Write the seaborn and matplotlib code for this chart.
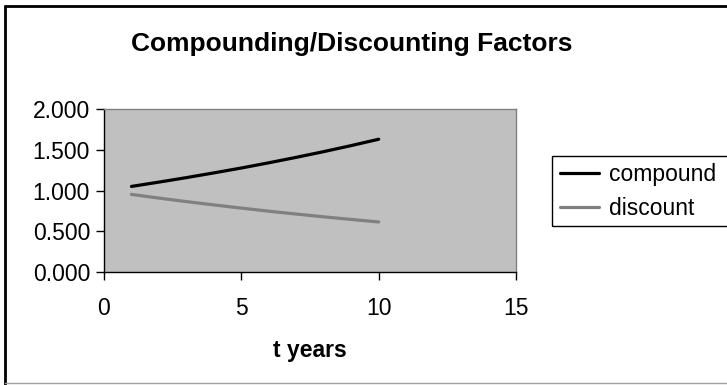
import matplotlib
matplotlib.use("Agg")
import matplotlib.pyplot as plt
import seaborn as sns
import pandas as pd
from matplotlib.patches import Rectangle
from matplotlib.lines import Line2D

sns.set_theme(style="white")
plt.rcParams["font.family"] = ["Liberation Sans", "DejaVu Sans"]
plt.rcParams["text.color"] = "black"
plt.rcParams["axes.labelcolor"] = "black"
plt.rcParams["xtick.color"] = "black"
plt.rcParams["ytick.color"] = "black"

# Factor values per year
years = [1, 2, 3, 4, 5, 6, 7, 8, 9, 10]
compound = [1.050, 1.103, 1.158, 1.216, 1.276, 1.340, 1.407, 1.477, 1.551, 1.629]
discount = [0.952, 0.907, 0.864, 0.823, 0.784, 0.746, 0.711, 0.677, 0.645, 0.614]
series_names = ["compound", "discount"]
x_ticks = [0, 5, 10, 15]
y_ticks = [0.0, 0.5, 1.0, 1.5, 2.0]

df = pd.DataFrame({
    "t": years * 2,
    "value": compound + discount,
    "series": [series_names[0]] * len(years) + [series_names[1]] * len(years),
})
colors = {"compound": "#000000", "discount": "#808080"}

W, H = 727, 385
fig = plt.figure(figsize=(W / 100, H / 100), dpi=100)
ax = fig.add_axes([104 / W, 1 - 272 / H, (516 - 104) / W, (272 - 109) / H])

sns.lineplot(data=df, x="t", y="value", hue="series", palette=colors,
             linewidth=2.3, ax=ax, legend=False)

ax.set_facecolor("#C0C0C0")
ax.set_xlim(0, 15)
ax.set_ylim(0, 2)
ax.set_xticks(x_ticks)
ax.set_yticks(y_ticks)
ax.set_yticklabels([f"{v:.3f}" for v in y_ticks])
ax.tick_params(axis="both", direction="out", length=6, width=1, color="black",
               labelsize=16.5, labelcolor="black", bottom=True, left=True)
ax.tick_params(axis="x", pad=12)
ax.tick_params(axis="y", pad=4)
for side in ["top", "right"]:
    ax.spines[side].set_color("#808080")
    ax.spines[side].set_linewidth(1)
for side in ["left", "bottom"]:
    ax.spines[side].set_color("black")
    ax.spines[side].set_linewidth(1)
ax.set_xlabel("t years", fontsize=16.5, fontweight="bold", labelpad=14,
              color="black")
ax.set_ylabel("")

fig.text(352 / W, 1 - 44 / H, "Compounding/Discounting Factors",
         ha="center", va="center", fontsize=19, fontweight="bold",
         color="black")

# Legend box (runs off the right edge) and entries
fig.patches.append(Rectangle((552 / W, 1 - 226 / H), (740 - 552) / W,
                             (226 - 156) / H, transform=fig.transFigure,
                             fill=False, edgecolor="black", linewidth=1))
handles = [Line2D([], [], color=colors[n], lw=2.3) for n in series_names]
leg = fig.legend(handles, series_names, loc="upper left",
                 bbox_to_anchor=(560 / W, 1 - 163 / H), frameon=False,
                 fontsize=16.5, handlelength=1.72, handletextpad=0.4,
                 borderpad=0.0, labelspacing=0.47, borderaxespad=0)
for t in leg.get_texts():
    t.set_color("black")

# Outer chart border: dark on left/top, light at the bottom
fig.lines.append(Line2D([5 / W, 5 / W], [0, 1 - 6 / H],
                        transform=fig.transFigure, color="black", lw=2))
fig.lines.append(Line2D([5 / W, 1], [1 - 6 / H, 1 - 6 / H],
                        transform=fig.transFigure, color="black", lw=2))
fig.lines.append(Line2D([5 / W, 1], [1 - 383 / H, 1 - 383 / H],
                        transform=fig.transFigure, color="#A0A0A0", lw=1))

fig.savefig("out.png", dpi=100)
